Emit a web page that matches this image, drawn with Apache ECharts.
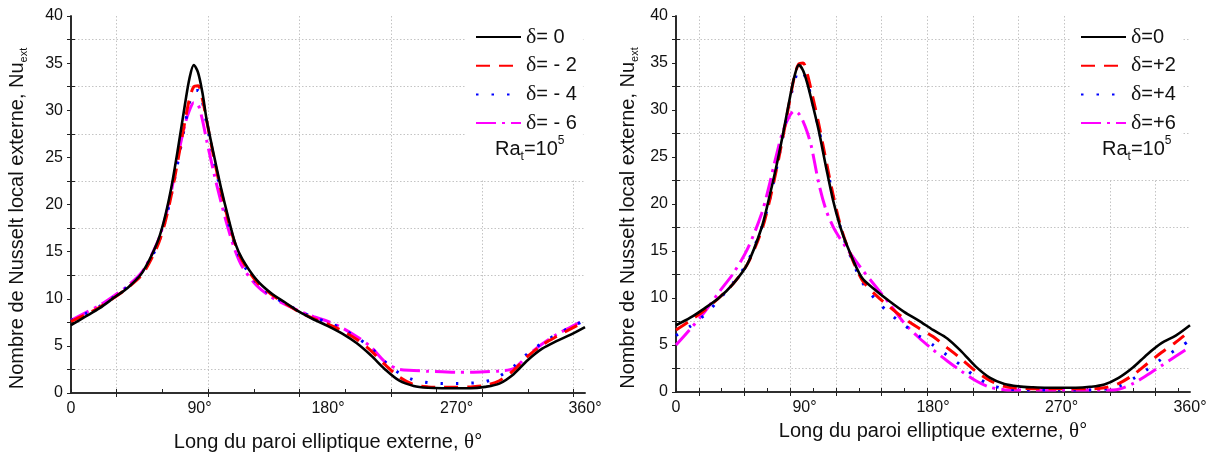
<!DOCTYPE html>
<html>
<head>
<meta charset="utf-8">
<script src="https://cdn.jsdelivr.net/npm/echarts@6/dist/echarts.min.js"></script>
<style>
html,body{margin:0;padding:0;background:#fff;}
#chart{width:1222px;height:454px;}
</style>
</head>
<body>
<div id="chart"></div>
<script>
// Angle along the outer elliptic wall (deg)
var theta = [0,10,20,30,40,50,60,65,70,75,80,83,86,89,92,95,100,105,110,115,120,130,140,150,160,170,180,190,200,210,220,230,240,250,260,270,280,290,300,310,320,330,340,350,360];

// Left panel : delta = 0, -2, -4, -6
var left_d0  = [7.2,8.1,9.0,10.1,11.2,12.8,15.8,18.2,21.6,26.0,30.8,33.4,34.8,34.0,31.9,29.0,25.3,21.8,18.7,15.9,14.2,12.0,10.6,9.6,8.6,7.8,7.1,6.3,5.3,4.0,2.5,1.3,0.75,0.55,0.5,0.5,0.5,0.65,1.0,2.0,3.5,4.7,5.5,6.2,7.0];
var left_dm2 = [7.6,8.3,9.1,10.1,11.2,12.6,15.4,17.6,20.8,24.8,29.0,31.2,32.5,32.6,31.2,28.9,25.0,21.5,18.4,15.8,14.0,11.8,10.5,9.5,8.6,7.9,7.3,6.6,5.7,4.5,3.0,1.7,0.9,0.65,0.6,0.6,0.65,0.8,1.3,2.4,3.9,5.1,6.0,6.8,7.6];
var left_dm4 = [7.7,8.4,9.2,10.2,11.3,12.7,15.5,17.7,20.8,24.6,28.6,30.8,32.0,32.1,30.9,28.6,24.8,21.3,18.2,15.6,13.8,11.7,10.4,9.5,8.7,8.0,7.5,6.8,5.9,4.8,3.3,2.1,1.4,1.1,1.0,1.0,1.05,1.2,1.8,2.8,4.2,5.3,6.2,7.0,7.7];
var left_dm6 = [7.7,8.5,9.3,10.3,11.4,12.9,15.8,18.0,21.2,25.2,28.6,30.0,30.8,30.6,29.0,26.8,23.4,20.3,17.5,15.1,13.4,11.4,10.2,9.4,8.7,8.1,7.6,6.9,6.0,4.9,3.3,2.5,2.4,2.3,2.25,2.2,2.2,2.25,2.35,2.6,4.0,5.2,6.2,7.0,7.8];

// Right panel : delta = 0, +2, +4, +6
var right_d0 = [7.1,7.9,8.9,10.0,11.5,13.6,17.5,20.5,23.8,27.5,31.5,33.6,34.8,34.2,32.8,31.0,27.8,24.0,20.4,17.6,15.5,12.2,10.8,9.6,8.5,7.6,6.6,5.7,4.3,2.7,1.5,0.85,0.6,0.5,0.45,0.45,0.45,0.55,0.8,1.5,2.6,4.0,5.2,6.0,7.1];
var right_dp2 = [6.6,7.6,8.7,10.0,11.5,13.6,17.2,20.0,23.4,27.2,31.3,33.6,34.9,35.0,33.8,31.9,28.5,24.7,21.0,17.8,15.5,12.0,10.3,9.0,7.8,6.8,5.9,4.7,3.5,2.2,1.2,0.6,0.4,0.35,0.35,0.35,0.35,0.35,0.45,0.9,1.8,3.0,4.2,5.3,6.5];
var right_dp4 = [6.0,7.0,8.2,9.8,11.6,13.8,17.5,20.1,23.5,27.3,31.2,33.0,34.2,34.0,32.9,31.2,28.0,24.4,20.8,17.6,15.3,11.8,9.8,8.3,7.1,6.0,5.0,3.9,2.8,1.6,0.8,0.35,0.25,0.2,0.2,0.2,0.2,0.2,0.3,0.6,1.4,2.4,3.5,4.5,5.5];
var right_dp6 = [5.0,6.7,8.5,10.6,12.6,15.2,19.0,21.8,25.0,27.8,29.5,29.9,29.6,28.8,27.6,26.0,22.2,19.4,17.6,16.3,15.2,13.1,11.2,9.3,7.3,5.8,4.5,3.3,2.2,1.2,0.5,0.25,0.2,0.2,0.2,0.2,0.2,0.2,0.2,0.3,0.9,1.8,2.8,3.8,4.8];

var left_names  = ['δ= 0','δ= - 2','δ= - 4','δ= - 6'];
var right_names = ['δ=0','δ=+2','δ=+4','δ=+6'];

// tick / grid positions
var left_xgrid    = [32,96,160,224,288,352];
var left_xminor   = [0,32,64,96,128,160,192,224,256,288,320,352];
var right_xgrid   = [16,48,80,112,144,176,208,240,272,304,336];
var right_xminor  = [0,16,32,48,64,80,96,112,128,144,160,176,192,208,224,240,256,272,288,304,320,336,352];
var y_grid        = [2.5,7.5,12.5,17.5,22.5,27.5,32.5,37.5];

var FONT = 'Liberation Sans, Arial, sans-serif';
var SERIF = 'Liberation Serif, Times New Roman, serif';
var FRAME = {color:'#222', width:1.6};
var GRIDLINE = {color:'#c4c4c4', width:1, type:[1.5,2]};

function zip(xs, ys){
	return xs.map(function(x,i){ return [x, ys[i]]; });
}

function genXAxes(gi, gridVals, minorVals, nameGap){
	return [{
		type:'value', gridIndex:gi, min:0, max:360, interval:90,
		axisLine:{lineStyle:FRAME},
		axisTick:{inside:true, length:4, customValues:minorVals, lineStyle:{color:'#222'}},
		axisLabel:{color:'#111', fontSize:16, fontFamily:FONT, margin:8,
			formatter:function(v){ return v === 0 ? '0' : v + '°'; }},
		splitLine:{show:false},
		name:'Long du paroi elliptique externe, {t|θ}°',
		nameLocation:'middle', nameGap:nameGap,
		nameTextStyle:{color:'#111', fontSize:20, fontFamily:FONT,
			rich:{t:{fontFamily:SERIF, fontSize:21, color:'#111'}}}
	},{
		type:'value', gridIndex:gi, position:'top', min:0, max:360,
		axisLine:{lineStyle:FRAME},
		axisTick:{inside:true, length:4, customValues:gridVals, lineStyle:{color:'#222'}},
		axisLabel:{show:false},
		splitLine:{show:true, lineStyle:GRIDLINE}
	}];
}

function genYAxes(gi, nameGap){
	return [{
		type:'value', gridIndex:gi, min:0, max:40, interval:5,
		axisLine:{show:true, lineStyle:FRAME},
		axisTick:{show:true, inside:true, length:4, customValues:y_grid, lineStyle:{color:'#222'}},
		axisLabel:{color:'#111', fontSize:16, fontFamily:FONT, margin:8},
		splitLine:{show:true, lineStyle:GRIDLINE},
		name:'Nombre de Nusselt local externe, Nu{s|ext}',
		nameLocation:'middle', nameGap:nameGap,
		nameTextStyle:{color:'#111', fontSize:20, fontFamily:FONT, lineHeight:24, padding:[0,28,0,0],
			rich:{s:{fontSize:11, fontFamily:FONT, color:'#111', lineHeight:11, verticalAlign:'bottom'}}}
	},{
		type:'value', gridIndex:gi, position:'right', min:0, max:40, interval:2.5,
		axisLine:{show:true, lineStyle:FRAME},
		axisTick:{show:true, inside:true, length:4, lineStyle:{color:'#222'}},
		axisLabel:{show:false},
		splitLine:{show:false}
	}];
}

var styles = [
	{color:'#000000', width:2.6, type:'solid'},
	{color:'#ff0000', width:3, type:[14,9]},
	{color:'#0000ff', width:3, type:[2.5,13]},
	{color:'#ff00ff', width:3, type:[20,6,3,6]}
];

function genSeries(names, values, xi, yi){
	return names.map(function(n,i){
		return {
			name:n, type:'line', xAxisIndex:xi, yAxisIndex:yi,
			data:zip(theta, values[i]),
			symbol:'none', smooth:0.3, silent:true,
			lineStyle:styles[i], itemStyle:{color:styles[i].color},
			z: 10 - i
		};
	});
}

function genLegend(names, left){
	return {
		data:names, orient:'vertical', left:left, top:16,
		itemWidth:45, itemHeight:14, itemGap:6.7,
		padding:[10,6,45,9],
		backgroundColor:'#fff',
		itemStyle:{opacity:0},
		formatter:function(n){ return n.replace('δ','{d|δ}'); },
		textStyle:{color:'#111', fontSize:20, fontFamily:FONT, lineHeight:19,
			rich:{d:{fontFamily:SERIF, fontSize:22, color:'#111', lineHeight:19}}},
		selectedMode:false
	};
}

function genRa(left){
	return {
		text:'{a|Ra}{b|t}{a|=10}{c|5}', left:left, top:130,
		textStyle:{fontWeight:'normal', rich:{
			a:{fontSize:20, fontFamily:FONT, color:'#111', lineHeight:28},
			b:{fontSize:12, fontFamily:FONT, color:'#111', lineHeight:12, verticalAlign:'bottom'},
			c:{fontSize:12, fontFamily:FONT, color:'#111', lineHeight:12, verticalAlign:'top'}
		}}
	};
}

var chart = echarts.init(document.getElementById('chart'), null, {renderer:'canvas'});

chart.setOption({
	animation:false,
	backgroundColor:'#fff',
	grid:[
		{left:71, top:16, width:514, height:377, outerBoundsMode:'none', containLabel:false},
		{left:676, top:16, width:514, height:376, outerBoundsMode:'none', containLabel:false}
	],
	xAxis: genXAxes(0, left_xgrid, left_xminor, 39).concat(genXAxes(1, right_xgrid, right_xminor, 23)),
	yAxis: genYAxes(0, 42).concat(genYAxes(1, 36)),
	legend:[ genLegend(left_names, 466), genLegend(right_names, 1071) ],
	title:[ genRa(490), genRa(1097) ],
	series: genSeries(left_names, [left_d0,left_dm2,left_dm4,left_dm6], 0, 0)
		.concat(genSeries(right_names, [right_d0,right_dp2,right_dp4,right_dp6], 2, 2))
});
</script>
</body>
</html>
